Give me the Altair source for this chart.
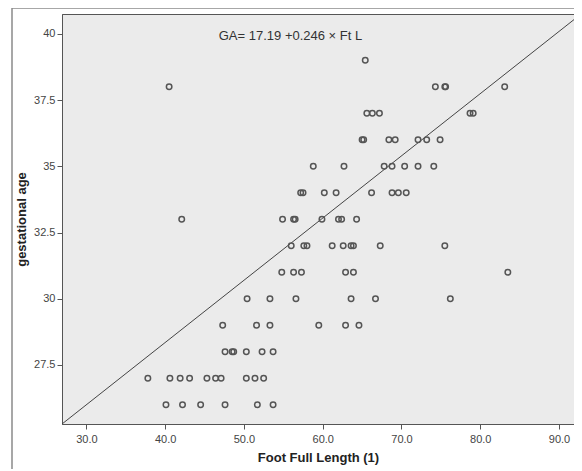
import altair as alt
import pandas as pd

# Foot full length (x) and gestational age (y)
foot_length = [
    40.1, 42.2, 44.5, 47.6, 51.7, 53.7,
    37.8, 40.6, 41.9, 43.1, 45.3, 46.4, 47.1, 50.3, 51.4, 52.5,
    47.6, 48.5, 48.7, 50.3, 52.3, 53.7,
    47.3, 51.6, 53.3, 59.5, 62.9, 64.6,
    50.4, 53.3, 56.6, 63.6, 66.7, 76.2,
    54.8, 56.3, 57.3, 62.9, 63.9, 83.5,
    56.0, 57.6, 58.0, 61.2, 62.6, 63.6, 63.9, 67.3, 75.5,
    42.1, 54.9, 56.3, 56.5, 59.9, 62.0, 62.4, 64.3,
    57.2, 57.5, 60.2, 61.7, 66.2, 68.8, 69.6, 70.6,
    58.8, 62.7, 67.8, 68.8, 70.4, 72.1, 74.1,
    65.0, 65.2, 68.4, 69.2, 72.1, 73.2, 74.9,
    65.6, 66.3, 67.2, 78.7, 79.1,
    40.5, 74.3, 75.5, 75.6, 83.1,
    65.4,
]
gest_age = (
    [26] * 6 + [27] * 10 + [28] * 6 + [29] * 6 + [30] * 6 + [31] * 6 +
    [32] * 9 + [33] * 8 + [34] * 8 + [35] * 7 + [36] * 7 + [37] * 5 +
    [38] * 5 + [39] * 1
)

x_domain = [26.9, 91.9]
y_domain = [25.27, 40.75]
x_ticks = [30, 40, 50, 60, 70, 80, 90]
y_ticks = [27.5, 30, 32.5, 35, 37.5, 40]

ref_line_x = [26.9, 92.8]
ref_line_y = [25.27, 40.75]

equation = "GA= 17.19 +0.246 × Ft L"
eq_x = [46.8]
eq_y = [39.92]

FONT = "Liberation Sans"

pts = pd.DataFrame({"ftl": foot_length, "ga": gest_age})
line_df = pd.DataFrame({"ftl": ref_line_x, "ga": ref_line_y})
txt_df = pd.DataFrame({"ftl": eq_x, "ga": eq_y, "t": [equation]})

xs = alt.Scale(domain=x_domain, nice=False, zero=False)
ys = alt.Scale(domain=y_domain, nice=False, zero=False)

x_axis = alt.Axis(values=x_ticks, format=".1f", title="Foot Full Length (1)",
                  grid=False, tickSize=5, labelPadding=4, titlePadding=7,
                  domainColor="#555555", tickColor="#555555")
y_axis = alt.Axis(values=y_ticks, labelExpr="'' + datum.value", title="gestational age",
                  grid=False, tickSize=5, labelPadding=2, titlePadding=5,
                  domainColor="#555555", tickColor="#555555")

points = alt.Chart(pts).mark_point(
    shape="circle", filled=False, size=30, strokeWidth=1.5, color="#555555", opacity=1
).encode(
    x=alt.X("ftl:Q", scale=xs, axis=x_axis),
    y=alt.Y("ga:Q", scale=ys, axis=y_axis),
)

ref = alt.Chart(line_df).mark_line(color="#444444", strokeWidth=1, clip=True).encode(
    x=alt.X("ftl:Q", scale=xs),
    y=alt.Y("ga:Q", scale=ys),
)

label = alt.Chart(txt_df).mark_text(
    align="left", baseline="middle", fontSize=13, font=FONT, color="#333333"
).encode(
    x=alt.X("ftl:Q", scale=xs),
    y=alt.Y("ga:Q", scale=ys),
    text="t:N",
)

frame_left = alt.Chart(txt_df).mark_rule(color="#8a8a8a", strokeWidth=1.5).encode(
    x=alt.value(-50), y=alt.value(-6), y2=alt.value(460)
)
frame_top = alt.Chart(txt_df).mark_rule(color="#8a8a8a", strokeWidth=1.5).encode(
    x=alt.value(-50), x2=alt.value(520), y=alt.value(-6)
)

chart = alt.layer(frame_left, frame_top, ref, points, label).properties(
    width=512,
    height=410,
    autosize=alt.AutoSizeParams(type="none"),
    padding={"left": 54, "top": 6, "right": 0, "bottom": 45},
    background="white",
).configure_view(
    fill="#ebebeb", stroke="#555555", strokeWidth=1
).configure_axis(
    labelFont=FONT, titleFont=FONT, labelFontSize=11, titleFontSize=13,
    labelColor="#444444", titleColor="#222222", titleFontWeight="bold",
)

chart.save("out.html", embed_options={"renderer": "svg", "actions": False})
